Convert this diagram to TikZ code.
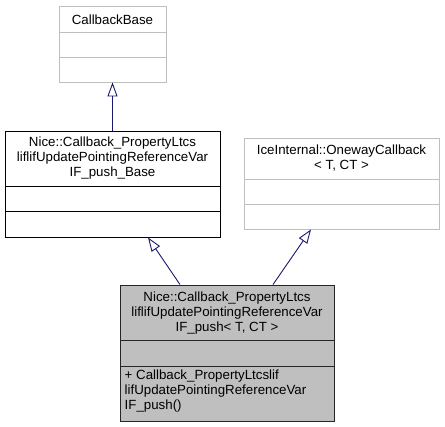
\documentclass[tikz,border=0pt]{standalone}
\usepackage{fontspec}
\setmainfont{Liberation Sans}
\usetikzlibrary{arrows.meta}
\definecolor{edgeblue}{HTML}{191970}
\definecolor{greyline}{HTML}{BFBFBF}
\definecolor{mainfill}{HTML}{BFBFBF}
\tikzset{
  cls/.style={draw, rectangle, inner sep=0pt, line width=0.9pt},
  ext/.style={cls, draw=greyline, fill=white},
  own/.style={cls, draw=black, fill=white},
  cur/.style={cls, draw=black!85, fill=mainfill},
  ttl/.style={inner sep=0pt, align=center, font=\fontsize{13.3}{15}\selectfont},
  mem/.style={inner sep=0pt, align=left, anchor=north west, font=\fontsize{13.3}{15}\selectfont},
  inh/.style={draw=edgeblue, line width=0.9pt, -{Triangle[open, length=14pt, width=10pt, fill=white]}},
}
\begin{document}
\begin{tikzpicture}[x=1pt, y=-1pt]
\useasboundingbox (0,0) rectangle (445,427);
% CallbackBase
\node[ext, minimum width=107pt, minimum height=76pt] (b1) at (112.5,44) {};
\draw[greyline, line width=0.9pt] (59,32) -- (166,32) (59,57) -- (166,57);
\node[ttl] (t1) at (112.5,19.5) {CallbackBase};
% Nice base
\node[own, minimum width=215pt, minimum height=106pt] (b2) at (112.5,184) {};
\draw[black, line width=0.9pt] (5,186) -- (220,186) (5,211) -- (220,211);
\node[ttl] (t2) at (112.5,158.5) {Nice::Callback\_PropertyLtcs\\liflifUpdatePointingReferenceVar\\IF\_push\_Base};
% IceInternal
\node[ext, minimum width=195pt, minimum height=91pt] (b3) at (341.5,183.5) {};
\draw[greyline, line width=0.9pt] (244,179) -- (439,179) (244,204) -- (439,204);
\node[ttl] (t3) at (341.5,158.5) {IceInternal::OnewayCallback\\< T, CT >};
% Main
\node[cur, minimum width=214pt, minimum height=136pt] (b4) at (227,353) {};
\draw[black!85, line width=0.9pt] (120,340) -- (334,340) (120,366) -- (334,366);
\node[ttl] (t4) at (227,313) {Nice::Callback\_PropertyLtcs\\liflifUpdatePointingReferenceVar\\IF\_push< T, CT >};
\node[mem] (m4) at (124.5,370) {+ Callback\_PropertyLtcslif\\lifUpdatePointingReferenceVar\\IF\_push()};
% edges
\draw[inh] (b2.north) -- (b1.south);
\draw[inh] ([xshift=-47pt]b4.north) -- ([xshift=35.5pt]b2.south);
\draw[inh] ([xshift=46pt]b4.north) -- ([xshift=-30.5pt]b3.south);
\end{tikzpicture}
\end{document}
